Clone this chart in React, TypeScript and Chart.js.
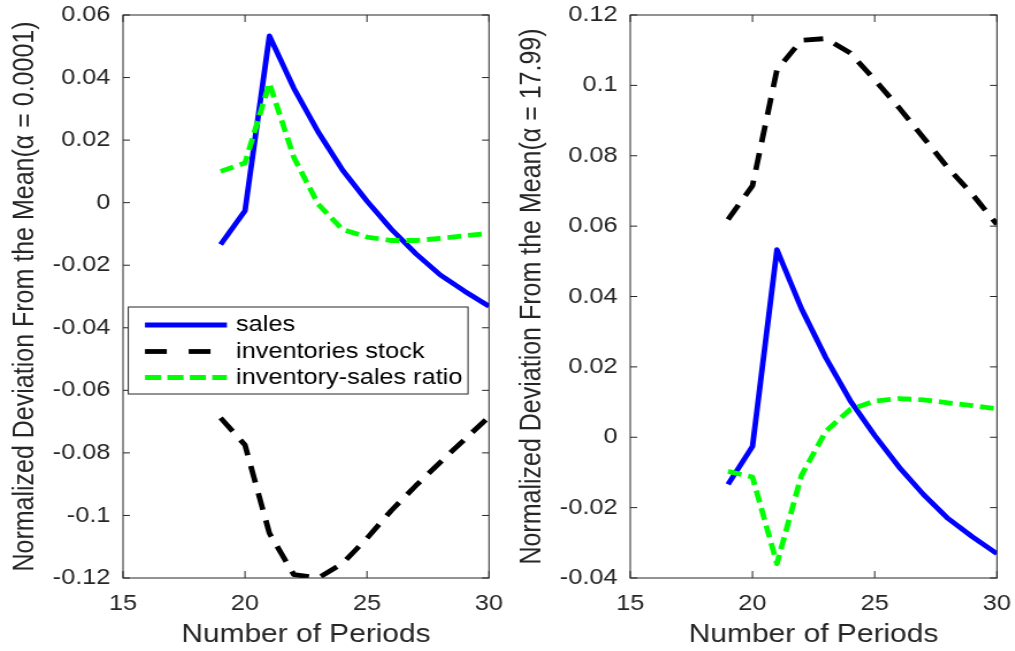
import React, { useEffect, useRef } from 'react';
import { Chart, registerables } from 'chart.js';

Chart.register(...registerables);

// ---------- data ----------
const periods = [19, 20, 21, 22, 23, 24, 25, 26, 27, 28, 29, 30];
const sales = [-0.0134, -0.0026, 0.0533, 0.0366, 0.0226, 0.0104, 0.0005, -0.0085, -0.0163, -0.0231, -0.0283, -0.0331];
const stockLeft = [-0.0688, -0.0775, -0.1057, -0.1189, -0.1200, -0.1153, -0.1073, -0.0984, -0.0905, -0.0830, -0.0757, -0.0685];
const ratioLeft = [0.0100, 0.0127, 0.0382, 0.0145, -0.0005, -0.0086, -0.0110, -0.0121, -0.0121, -0.0114, -0.0106, -0.0098];
const stockRight = [0.0619, 0.0715, 0.1044, 0.1128, 0.1133, 0.1092, 0.1016, 0.0936, 0.0851, 0.0765, 0.0690, 0.0605];
const ratioRight = [-0.0097, -0.0113, -0.0359, -0.0109, 0.0017, 0.0079, 0.0103, 0.0110, 0.0106, 0.0098, 0.0090, 0.0081];

const seriesLabels = ['sales', 'inventories stock', 'inventory-sales ratio'];
const xTicks = [15, 20, 25, 30];
const yTicksLeft = [-0.12, -0.1, -0.08, -0.06, -0.04, -0.02, 0, 0.02, 0.04, 0.06];
const yTicksRight = [-0.04, -0.02, 0, 0.02, 0.04, 0.06, 0.08, 0.1, 0.12];
const xTitle = 'Number of Periods';
const yTitleLeft = 'Normalized Deviation From the Mean(α = 0.0001)';
const yTitleRight = 'Normalized Deviation From the Mean(α = 17.99)';

// ---------- style ----------
const FONT = '"Liberation Sans", Arial, Helvetica, sans-serif';
const AXIS = '#262626';
const COLORS = ['#0000ff', '#000000', '#00ff00'];
const PLOT_DASH = [[], [17, 11], [12, 6]];
const LEGEND_DASH = [[], [19, 19], [14, 5.5]];
const LINE_W = 4.8;
const INTERNAL_W = 441;

const boxPlugin = {
  id: 'matlabBox',
  afterDatasetsDraw(chart: any) {
    const { ctx, chartArea: a, scales } = chart;
    ctx.save();
    ctx.strokeStyle = AXIS;
    ctx.lineWidth = 1;
    ctx.setLineDash([]);
    ctx.strokeRect(a.left, a.top, a.right - a.left, a.bottom - a.top);
    ctx.beginPath();
    scales.x.ticks.forEach((t: any) => {
      const px = scales.x.getPixelForValue(t.value);
      ctx.moveTo(px, a.bottom);
      ctx.lineTo(px, a.bottom - 7);
      ctx.moveTo(px, a.top);
      ctx.lineTo(px, a.top + 7);
    });
    scales.y.ticks.forEach((t: any) => {
      const py = scales.y.getPixelForValue(t.value);
      ctx.moveTo(a.left, py);
      ctx.lineTo(a.left + 6, py);
      ctx.moveTo(a.right, py);
      ctx.lineTo(a.right - 6, py);
    });
    ctx.stroke();
    ctx.restore();
  },
};

const legendPlugin = {
  id: 'boxLegend',
  afterDraw(chart: any) {
    const { ctx, chartArea: a } = chart;
    const lx = a.left + 4.6;
    const ly = a.top + 292;
    const w = 295.5;
    const h = 87;
    ctx.save();
    ctx.fillStyle = '#ffffff';
    ctx.fillRect(lx, ly, w, h);
    ctx.strokeStyle = AXIS;
    ctx.lineWidth = 1;
    ctx.strokeRect(lx, ly, w, h);
    const rows = [18, 44.5, 70.5];
    chart.data.datasets.forEach((ds: any, i: number) => {
      const y = ly + rows[i];
      ctx.beginPath();
      ctx.strokeStyle = ds.borderColor;
      ctx.lineWidth = ds.borderWidth;
      ctx.setLineDash(LEGEND_DASH[i]);
      ctx.moveTo(lx + 14.5, y);
      ctx.lineTo(lx + 85.8, y);
      ctx.stroke();
      ctx.setLineDash([]);
      ctx.fillStyle = '#000000';
      ctx.font = `22px ${FONT}`;
      ctx.textAlign = 'left';
      ctx.textBaseline = 'middle';
      ctx.fillText(ds.label, lx + 93.7, y);
    });
    ctx.restore();
  },
};

function clearPadding(s: any) {
  s.paddingTop = 0;
  s.paddingBottom = 0;
  s.paddingLeft = 0;
  s.paddingRight = 0;
}

function makeConfig(stock: number[], ratio: number[], yTicks: number[], yTitle: string, withLegend: boolean) {
  const series = [sales, stock, ratio];
  const datasets = series.map((vals, i) => ({
    label: seriesLabels[i],
    data: periods.map((p, j) => ({ x: p, y: vals[j] })),
    borderColor: COLORS[i],
    backgroundColor: COLORS[i],
    borderWidth: LINE_W,
    borderDash: PLOT_DASH[i],
    borderCapStyle: 'butt',
    borderJoinStyle: 'round',
    pointRadius: 0,
    tension: 0,
    fill: false,
    order: 3 - i,
  }));
  return {
    type: 'line',
    data: { datasets },
    options: {
      responsive: false,
      animation: false,
      devicePixelRatio: 1,
      layout: { padding: { left: 0, right: 15.7, top: 15, bottom: 0 } },
      plugins: { legend: { display: false }, tooltip: { enabled: false } },
      scales: {
        x: {
          type: 'linear',
          min: 15,
          max: 30,
          afterBuildTicks: (s: any) => {
            s.ticks = xTicks.map((v) => ({ value: v }));
          },
          afterFit: (s: any) => {
            s.height = 73;
            clearPadding(s);
          },
          grid: { display: false, drawTicks: false },
          border: { display: false },
          ticks: {
            padding: 13,
            color: AXIS,
            font: { family: FONT, size: 22 },
            maxRotation: 0,
            autoSkip: false,
            callback: (v: any) => String(v),
          },
          title: {
            display: true,
            text: xTitle,
            color: AXIS,
            font: { family: FONT, size: 26 },
            padding: { top: 0, bottom: 0.5 },
          },
        },
        y: {
          type: 'linear',
          min: yTicks[0],
          max: yTicks[yTicks.length - 1],
          afterBuildTicks: (s: any) => {
            s.ticks = yTicks.map((v) => ({ value: v }));
          },
          afterFit: (s: any) => {
            s.width = 107;
            clearPadding(s);
          },
          grid: { display: false, drawTicks: false },
          border: { display: false },
          ticks: {
            padding: 11,
            color: AXIS,
            font: { family: FONT, size: 22 },
            autoSkip: false,
            callback: (v: any) => String(v),
          },
          title: {
            display: true,
            text: yTitle,
            color: AXIS,
            font: { family: FONT, size: 25 },
            padding: { top: 7.5, bottom: 0 },
          },
        },
      },
    },
    plugins: withLegend ? [boxPlugin, legendPlugin] : [boxPlugin],
  } as any;
}

export default function App() {
  const leftRef = useRef<HTMLCanvasElement | null>(null);
  const rightRef = useRef<HTMLCanvasElement | null>(null);

  useEffect(() => {
    const charts: Chart[] = [];
    if (leftRef.current) {
      charts.push(new Chart(leftRef.current, makeConfig(stockLeft, ratioLeft, yTicksLeft, yTitleLeft, true)));
    }
    if (rightRef.current) {
      charts.push(new Chart(rightRef.current, makeConfig(stockRight, ratioRight, yTicksRight, yTitleRight, false)));
    }
    return () => charts.forEach((c) => c.destroy());
  }, []);

  return (
    <div style={{ position: 'absolute', left: 0, top: 0, width: 1015, height: 651, background: '#ffffff', overflow: 'hidden' }}>
      <canvas
        ref={leftRef}
        width={INTERNAL_W}
        height={651}
        style={{ position: 'absolute', left: 0, top: 0, width: '507px', height: '651px', display: 'block' }}
      />
      <canvas
        ref={rightRef}
        width={INTERNAL_W}
        height={651}
        style={{ position: 'absolute', left: '507px', top: 0, width: '508px', height: '651px', display: 'block' }}
      />
    </div>
  );
}
